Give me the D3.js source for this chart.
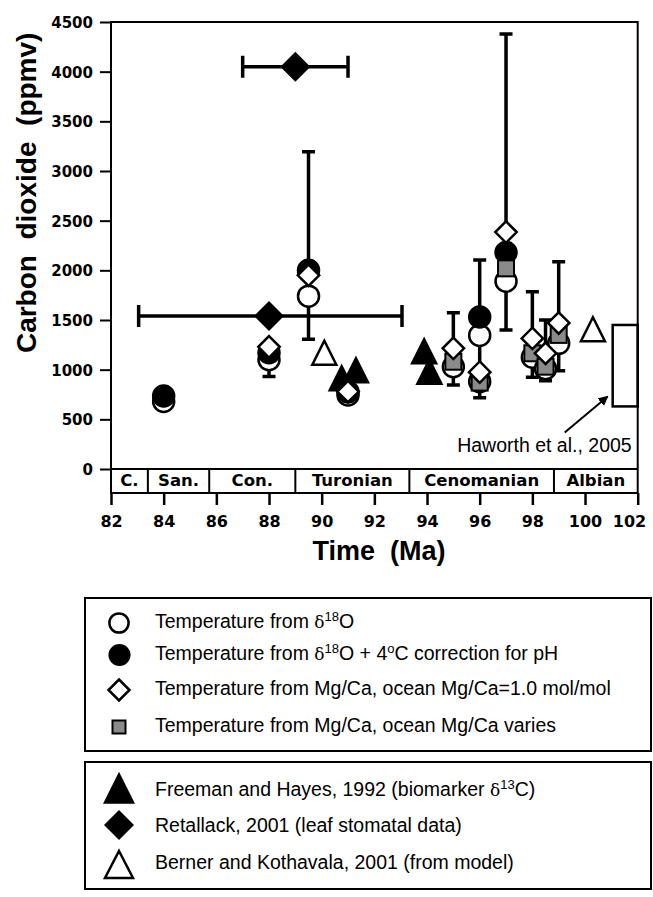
<!DOCTYPE html>
<html>
<head>
<meta charset="utf-8">
<script src="https://cdn.jsdelivr.net/npm/d3@7"></script>
<style>
  body { margin: 0; background: #fff; }
  svg { display: block; }
</style>
</head>
<body>
<svg id="chart" width="653" height="897"></svg>
<script>
// axis values
const ageTicks = [82, 84, 86, 88, 90, 92, 94, 96, 98, 100, 102];
const co2Ticks = [0, 500, 1000, 1500, 2000, 2500, 3000, 3500, 4000, 4500];

// stage band under the plot
const stageNames = ["C.", "San.", "Con.", "Turonian", "Cenomanian", "Albian"];
const stageBounds = [82, 83.4, 85.73, 89.0, 93.33, 98.82, 102];

// temperature from d18O (open circles)
const o18Age = [84, 88, 89.5, 91, 95, 96, 96, 97, 98, 98.5, 99];
const o18CO2 = [680, 1100, 1740, 745, 1030, 1345, 880, 1890, 1125, 1010, 1265];

// d18O + 4C pH correction (filled circles)
const phAge = [84, 88, 89.5, 91, 96, 97];
const phCO2 = [735, 1170, 2000, 775, 1530, 2180];

// Mg/Ca, ocean Mg/Ca = 1.0 (open diamonds)
const mgAge = [88, 89.5, 91, 95, 96, 97, 98, 98.5, 99];
const mgCO2 = [1230, 1950, 780, 1215, 975, 2385, 1315, 1165, 1470];

// Mg/Ca, ocean Mg/Ca varies (grey squares)
const mgVarAge = [95, 96, 97, 98, 98.5, 99];
const mgVarCO2 = [1080, 870, 2020, 1165, 1030, 1350];

// vertical error bars of the proxy groups
const errAge = [88, 89.5, 95, 96, 97, 98, 98.5, 99];
const errLow = [930, 1305, 846, 718, 1400, 923, 889, 990];
const errHigh = [1250, 3195, 1574, 2104, 4380, 1785, 1500, 2087];

// Freeman and Hayes 1992
const freemanAge = [90.76, 91.3, 93.89, 94.09];
const freemanCO2 = [875, 955, 1145, 940];

// Retallack 2001, with age ranges
const retAge = [89, 88];
const retCO2 = [4050, 1540];
const retAgeMin = [87, 83.05];
const retAgeMax = [91, 93.05];

// Berner and Kothavala 2001
const bernerAge = [90.1, 100.3];
const bernerCO2 = [1130, 1366];

// Haworth et al. 2005 range
const haworthAge = [101.05, 102];
const haworthCO2 = [630, 1450];

const legend1 = [
  [["Temperature from ", 0], ["δ", 2], ["18", 1], ["O", 0]],
  [["Temperature from ", 0], ["δ", 2], ["18", 1], ["O + 4", 0], ["o", 1], ["C correction for pH", 0]],
  [["Temperature from Mg/Ca, ocean Mg/Ca=1.0 mol/mol", 0]],
  [["Temperature from Mg/Ca, ocean Mg/Ca varies", 0]]
];
const legend2 = [
  [["Freeman and Hayes, 1992 (biomarker ", 0], ["δ", 2], ["13", 1], ["C)", 0]],
  [["Retallack, 2001 (leaf stomatal data)", 0]],
  [["Berner and Kothavala, 2001 (from model)", 0]]
];

const svg = d3.select("#chart");
const x = d3.scaleLinear().domain([82, 102]).range([111, 637.7]);
const y = d3.scaleLinear().domain([0, 4500]).range([469, 22]);
const bandTop = y(0), bandBottom = bandTop + 24;
const bold = "'DejaVu Sans', sans-serif";
const sans = "'Liberation Sans', Arial, sans-serif";
const textSize = 19.5;

const tri = (w, h) => `M0,${-2 * h / 3}L${w / 2},${h / 3}L${-w / 2},${h / 3}Z`;
const dia = r => `M0,${-r}L${r},0L0,${r}L${-r},0Z`;
const zip = (a, b) => a.map((d, i) => [d, b[i]]);

// y axis
const yAxis = svg.append("g")
  .attr("transform", `translate(${x(82)},0)`)
  .call(d3.axisLeft(y).tickValues(co2Ticks).tickFormat(d3.format("d"))
    .tickSize(11).tickPadding(7).tickSizeOuter(0));
yAxis.select(".domain").remove();
yAxis.selectAll(".tick line").attr("stroke-width", 2);
yAxis.selectAll(".tick text")
  .attr("font-family", bold).attr("font-weight", "bold").attr("font-size", 15)
  .attr("dy", "0.36em");

// x axis below the stage band
const xAxis = svg.append("g")
  .attr("transform", `translate(0,${bandBottom})`)
  .call(d3.axisBottom(x).tickValues(ageTicks).tickFormat(d3.format("d"))
    .tickSize(12).tickSizeOuter(0));
xAxis.select(".domain").remove();
xAxis.selectAll(".tick line").attr("stroke-width", 2.5);
xAxis.selectAll(".tick text")
  .attr("font-family", bold).attr("font-weight", "bold").attr("font-size", 16)
  .attr("y", 34).attr("dy", 0);
xAxis.selectAll(".tick text").filter(d => d === 102)
  .attr("text-anchor", "end").attr("x", 8);

// stage band
svg.append("g").selectAll("line")
  .data(stageBounds.slice(1, -1)).join("line")
  .attr("x1", d => x(d)).attr("x2", d => x(d))
  .attr("y1", bandTop).attr("y2", bandBottom)
  .attr("stroke", "#000").attr("stroke-width", 2);
svg.append("g").selectAll("text")
  .data(stageNames).join("text")
  .attr("x", (d, i) => (x(stageBounds[i]) + x(stageBounds[i + 1])) / 2)
  .attr("y", bandBottom - 7)
  .attr("text-anchor", "middle")
  .attr("font-family", bold).attr("font-weight", "bold").attr("font-size", 16.5)
  .text(d => d);

// titles
svg.append("text")
  .attr("transform", `translate(36,${(y(4500) + y(1000)) / 2 - 3}) rotate(-90)`)
  .attr("text-anchor", "middle")
  .attr("font-family", sans).attr("font-weight", "bold").attr("font-size", 28)
  .attr("xml:space", "preserve")
  .text("Carbon  dioxide  (ppmv)");
svg.append("text")
  .attr("x", 379).attr("y", bandBottom + 67)
  .attr("text-anchor", "middle")
  .attr("font-family", sans).attr("font-weight", "bold").attr("font-size", 27)
  .attr("xml:space", "preserve")
  .text("Time  (Ma)");

const plot = svg.append("g");

// Freeman and Hayes triangles
plot.append("g").selectAll("path")
  .data(zip(freemanAge, freemanCO2)).join("path")
  .attr("transform", d => `translate(${x(d[0])},${y(d[1])})`)
  .attr("d", tri(28, 28)).attr("fill", "#000");

// Berner and Kothavala open triangles
plot.append("g").selectAll("path")
  .data(zip(bernerAge, bernerCO2)).join("path")
  .attr("transform", d => `translate(${x(d[0])},${y(d[1])})`)
  .attr("d", tri(24, 24)).attr("fill", "#fff")
  .attr("stroke", "#000").attr("stroke-width", 2.5);

// vertical error bars
plot.append("g").selectAll("path")
  .data(errAge.map((a, i) => ({a, lo: errLow[i], hi: errHigh[i]}))).join("path")
  .attr("d", d => `M${x(d.a)},${y(d.lo)}V${y(d.hi)}` +
    `M${x(d.a) - 6.5},${y(d.lo)}h13M${x(d.a) - 6.5},${y(d.hi)}h13`)
  .attr("fill", "none").attr("stroke", "#000").attr("stroke-width", 3.5);

// open circles
plot.append("g").selectAll("circle")
  .data(zip(o18Age, o18CO2)).join("circle")
  .attr("cx", d => x(d[0])).attr("cy", d => y(d[1])).attr("r", 10.5)
  .attr("fill", "#fff").attr("stroke", "#000").attr("stroke-width", 2.5);

// filled circles
plot.append("g").selectAll("circle")
  .data(zip(phAge, phCO2)).join("circle")
  .attr("cx", d => x(d[0])).attr("cy", d => y(d[1])).attr("r", 10.5)
  .attr("fill", "#000").attr("stroke", "#000").attr("stroke-width", 2.5);

// grey squares
plot.append("g").selectAll("rect")
  .data(zip(mgVarAge, mgVarCO2)).join("rect")
  .attr("x", d => x(d[0]) - 8).attr("y", d => y(d[1]) - 8)
  .attr("width", 16).attr("height", 16)
  .attr("fill", "#8a8a8a").attr("stroke", "#000").attr("stroke-width", 2);

// open diamonds
plot.append("g").selectAll("path")
  .data(zip(mgAge, mgCO2)).join("path")
  .attr("transform", d => `translate(${x(d[0])},${y(d[1])})`)
  .attr("d", dia(10.7)).attr("fill", "#fff")
  .attr("stroke", "#000").attr("stroke-width", 2.5);

// Retallack with horizontal age bars
const ret = retAge.map((a, i) => ({a, c: retCO2[i], lo: retAgeMin[i], hi: retAgeMax[i]}));
plot.append("g").selectAll("path")
  .data(ret).join("path")
  .attr("d", d => `M${x(d.lo)},${y(d.c)}H${x(d.hi)}` +
    `M${x(d.lo)},${y(d.c) - 11}v22M${x(d.hi)},${y(d.c) - 11}v22`)
  .attr("fill", "none").attr("stroke", "#000").attr("stroke-width", 3.5);
plot.append("g").selectAll("path")
  .data(ret).join("path")
  .attr("transform", d => `translate(${x(d.a)},${y(d.c)})`)
  .attr("d", dia(15)).attr("fill", "#000");

// Haworth range box and label
plot.append("rect")
  .attr("x", x(haworthAge[0])).attr("y", y(haworthCO2[1]))
  .attr("width", x(haworthAge[1]) - x(haworthAge[0]))
  .attr("height", y(haworthCO2[0]) - y(haworthCO2[1]))
  .attr("fill", "#fff").attr("stroke", "#000").attr("stroke-width", 2.5);

svg.append("defs").append("marker")
  .attr("id", "head").attr("viewBox", "0 0 10 10")
  .attr("refX", 9).attr("refY", 5)
  .attr("markerWidth", 5).attr("markerHeight", 5)
  .attr("orient", "auto")
  .append("path").attr("d", "M0,0L10,5L0,10Z").attr("fill", "#000");
const tipX = x(haworthAge[0]) - 5, tipY = y(haworthCO2[0]) - 10;
plot.append("line")
  .attr("x1", tipX - 43).attr("y1", tipY + 36)
  .attr("x2", tipX).attr("y2", tipY)
  .attr("stroke", "#000").attr("stroke-width", 2)
  .attr("marker-end", "url(#head)");
plot.append("text")
  .attr("x", x(102) - 6).attr("y", y(0) - 17)
  .attr("text-anchor", "end")
  .attr("font-family", sans).attr("font-size", textSize)
  .text("Haworth et al., 2005");

// frame
svg.append("path")
  .attr("d", `M${x(82)},${y(4500)}H${x(102)}V${bandBottom}H${x(82)}Z` +
    `M${x(82)},${bandTop}H${x(102)}`)
  .attr("fill", "none").attr("stroke", "#000").attr("stroke-width", 2);

// legends
function legendText(g, rows, x0, ys) {
  g.selectAll("text.lab").data(rows).join("text")
    .attr("class", "lab")
    .attr("x", x0).attr("y", (d, i) => ys[i])
    .attr("font-family", sans).attr("font-size", textSize)
    .each(function(segs) {
      const t = d3.select(this);
      let up = false;
      segs.forEach(([s, k]) => {
        const sp = t.append("tspan").text(s);
        if (k === 1) {
          sp.attr("font-size", 13).attr("dy", up ? 0 : -7);
          up = true;
        } else {
          if (up) sp.attr("dy", 7);
          up = false;
          if (k === 2) sp.attr("font-family", "'DejaVu Serif', serif").attr("font-size", 17);
        }
      });
    });
}

const leg1 = svg.append("g");
leg1.append("rect").attr("x", 85).attr("y", 598).attr("width", 566).attr("height", 153)
  .attr("fill", "none").attr("stroke", "#000").attr("stroke-width", 2);
const l1y = [623, 655, 690, 727];
legendText(leg1, legend1, 155, l1y.map(v => v + 5));
leg1.append("circle").attr("cx", 119).attr("cy", l1y[0]).attr("r", 9.6)
  .attr("fill", "#fff").attr("stroke", "#000").attr("stroke-width", 2.5);
leg1.append("circle").attr("cx", 119.5).attr("cy", l1y[1]).attr("r", 9.8)
  .attr("fill", "#000").attr("stroke", "#000").attr("stroke-width", 2.5);
leg1.append("path").attr("transform", `translate(119,${l1y[2]})`).attr("d", dia(10.5))
  .attr("fill", "#fff").attr("stroke", "#000").attr("stroke-width", 2.5);
leg1.append("rect").attr("x", 119 - 6.5).attr("y", l1y[3] - 6.5).attr("width", 13).attr("height", 13)
  .attr("fill", "#8a8a8a").attr("stroke", "#000").attr("stroke-width", 2);

const leg2 = svg.append("g");
leg2.append("rect").attr("x", 85).attr("y", 762).attr("width", 566).attr("height", 127)
  .attr("fill", "none").attr("stroke", "#000").attr("stroke-width", 2);
const l2y = [790, 826, 863];
legendText(leg2, legend2, 155, l2y.map(v => v + 6));
leg2.append("path").attr("transform", `translate(119,${l2y[0] + 3})`).attr("d", tri(32, 32))
  .attr("fill", "#000");
leg2.append("path").attr("transform", `translate(119,${l2y[1] - 1})`).attr("d", dia(15))
  .attr("fill", "#000");
leg2.append("path").attr("transform", `translate(119,${l2y[2] + 6})`).attr("d", tri(28, 27))
  .attr("fill", "#fff").attr("stroke", "#000").attr("stroke-width", 2.5);
</script>
</body>
</html>
